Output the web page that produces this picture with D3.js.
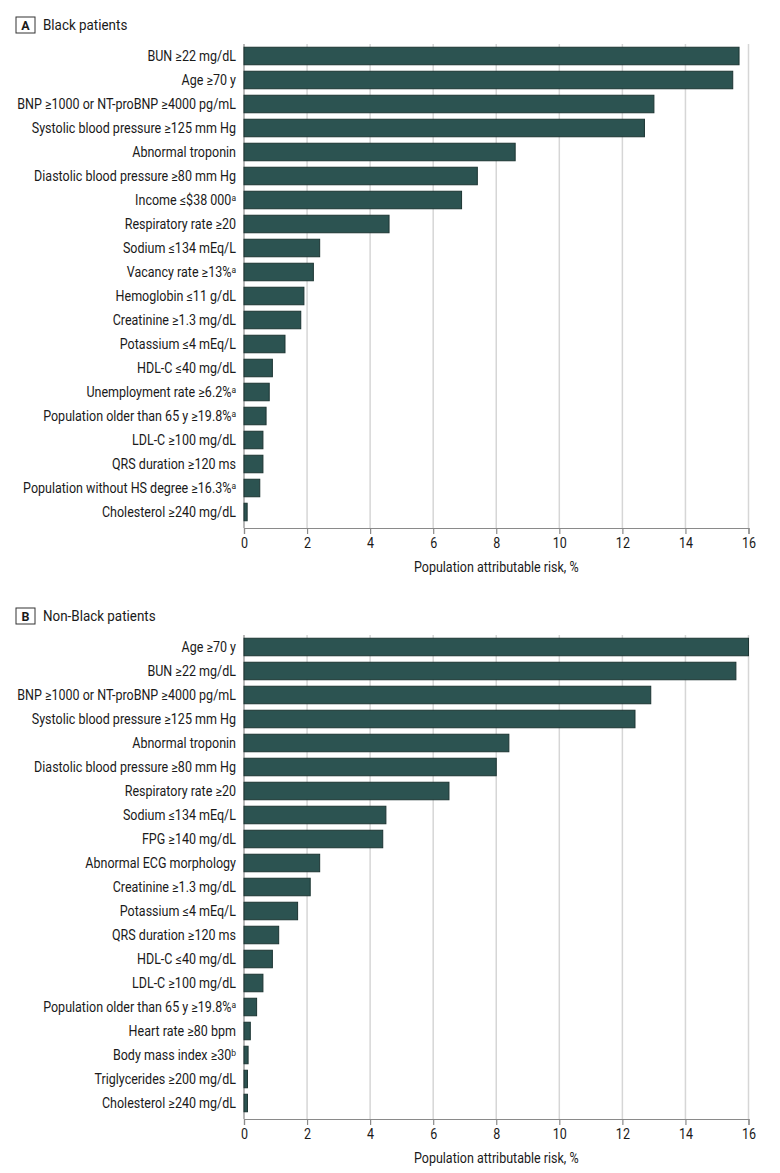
<!DOCTYPE html>
<html>
<head>
<meta charset="utf-8">
<script src="https://cdn.jsdelivr.net/npm/d3@7"></script>
<style>
  html, body { margin: 0; padding: 0; background: #fff; }
  svg { display: block; }
  text { font-family: "Roboto", "Noto Sans", sans-serif; fill: #1a1a1a; }
</style>
</head>
<body>
<svg id="chart" width="780" height="1173"></svg>
<script>
// ---- Data ----
const titleA = "Black patients";
const labelsA = [
  "BUN ≥22 mg/dL", "Age ≥70 y", "BNP ≥1000 or NT-proBNP ≥4000 pg/mL",
  "Systolic blood pressure ≥125 mm Hg", "Abnormal troponin",
  "Diastolic blood pressure ≥80 mm Hg", "Income ≤$38 000", "Respiratory rate ≥20",
  "Sodium ≤134 mEq/L", "Vacancy rate ≥13%", "Hemoglobin ≤11 g/dL",
  "Creatinine ≥1.3 mg/dL", "Potassium ≤4 mEq/L", "HDL-C ≤40 mg/dL",
  "Unemployment rate ≥6.2%", "Population older than 65 y ≥19.8%",
  "LDL-C ≥100 mg/dL", "QRS duration ≥120 ms", "Population without HS degree ≥16.3%",
  "Cholesterol ≥240 mg/dL"
];
const supA = ["", "", "", "", "", "", "a", "", "", "a", "", "", "", "", "a", "a", "", "", "a", ""];
const valuesA = [15.7, 15.5, 13.0, 12.7, 8.6, 7.4, 6.9, 4.6, 2.4, 2.2, 1.9, 1.8, 1.3, 0.9, 0.8, 0.7, 0.6, 0.6, 0.5, 0.1];

const titleB = "Non-Black patients";
const labelsB = [
  "Age ≥70 y", "BUN ≥22 mg/dL", "BNP ≥1000 or NT-proBNP ≥4000 pg/mL",
  "Systolic blood pressure ≥125 mm Hg", "Abnormal troponin",
  "Diastolic blood pressure ≥80 mm Hg", "Respiratory rate ≥20", "Sodium ≤134 mEq/L",
  "FPG ≥140 mg/dL", "Abnormal ECG morphology", "Creatinine ≥1.3 mg/dL",
  "Potassium ≤4 mEq/L", "QRS duration ≥120 ms", "HDL-C ≤40 mg/dL",
  "LDL-C ≥100 mg/dL", "Population older than 65 y ≥19.8%", "Heart rate ≥80 bpm",
  "Body mass index ≥30", "Triglycerides ≥200 mg/dL", "Cholesterol ≥240 mg/dL"
];
const supB = ["", "", "", "", "", "", "", "", "", "", "", "", "", "", "", "a", "", "b", "", ""];
const valuesB = [16.0, 15.6, 12.9, 12.4, 8.4, 8.0, 6.5, 4.5, 4.4, 2.4, 2.1, 1.7, 1.1, 0.9, 0.6, 0.4, 0.2, 0.13, 0.11, 0.11];

const xTicks = [0, 2, 4, 6, 8, 10, 12, 14, 16];
const xTitle = "Population attributable risk, %";

// ---- Drawing ----
const svg = d3.select("#chart");
const BAR_FILL = "#2c5351";
const BAR_STROKE = "#1c3533";

// measure condensation factor (reference font is a condensed sans)
const probe = svg.append("text").style("font-size", "14px").text("BNP ≥1000 or NT-proBNP ≥4000 pg/mL");
const K = 219 / probe.node().getComputedTextLength();
probe.remove();

function condensed(sel, x, y) {
  sel.attr("x", 0).attr("y", 0).attr("transform", `translate(${x},${y}) scale(${K},1)`);
}

function panel(y0, letter, title, labels, sups, values) {
  const g = svg.append("g").attr("transform", `translate(0,${y0})`);
  const x = d3.scaleLinear().domain([0, 16]).range([244, 748.5]);
  const y = d3.scaleBand().domain(labels).range([44, 524]).paddingInner(0.27).paddingOuter(0.135);

  // header
  g.append("rect").attr("x", 16).attr("y", 17).attr("width", 19).attr("height", 16)
    .attr("fill", "#fff").attr("stroke", "#333").attr("stroke-width", 1);
  g.append("text").attr("x", 25.5).attr("y", 25.5).attr("dy", "0.36em")
    .attr("text-anchor", "middle").style("font-weight", "bold").style("font-size", "12.5px")
    .text(letter);
  const ht = g.append("text").attr("dy", "0.36em").style("font-size", "15px").text(title);
  condensed(ht, 43, 25);

  // gridlines
  g.append("g").selectAll("line").data(xTicks.filter(d => d > 0)).join("line")
    .attr("x1", d => x(d)).attr("x2", d => x(d))
    .attr("y1", 44).attr("y2", 528)
    .attr("stroke", "#d6d6d6").attr("stroke-width", 1.5);

  // y axis line
  g.append("line").attr("x1", x(0)).attr("x2", x(0)).attr("y1", 44).attr("y2", 528)
    .attr("stroke", "#8a8a8a").attr("stroke-width", 1.2);

  // bars
  g.append("g").selectAll("rect").data(values).join("rect")
    .attr("x", x(0))
    .attr("y", (d, i) => y(labels[i]))
    .attr("width", d => x(d) - x(0))
    .attr("height", y.bandwidth())
    .attr("fill", BAR_FILL).attr("stroke", BAR_STROKE).attr("stroke-width", 1);

  // labels
  g.append("g").selectAll("text").data(labels).join("text")
    .attr("dy", "0.36em")
    .attr("text-anchor", "end")
    .style("font-size", "14px")
    .each(function(d, i) {
      const t = d3.select(this);
      condensed(t, 236, y(d) + y.bandwidth() / 2);
      t.append("tspan").text(d);
      if (sups[i]) {
        t.append("tspan").attr("dy", "-0.45em").style("font-size", "9.5px").text(sups[i]);
      }
    });

  // x axis
  const axis = d3.axisBottom(x).tickValues(xTicks).tickSize(6).tickPadding(4).tickFormat(d3.format("d"));
  const ax = g.append("g").attr("transform", "translate(0,528)").call(axis);
  ax.select(".domain").attr("stroke", "#8a8a8a").attr("stroke-width", 1.2);
  ax.selectAll(".tick line").attr("stroke", "#8a8a8a").attr("stroke-width", 1.2);
  ax.selectAll(".tick text").style("font-size", "14px").style("font-family", "Roboto, sans-serif")
    .attr("fill", "#1a1a1a")
    .each(function() {
      const t = d3.select(this);
      t.attr("transform", `translate(0,10) scale(${K},1)`).attr("y", 0).attr("dy", "0.71em");
    });

  const tt = g.append("text").attr("dy", "0.36em").attr("text-anchor", "middle")
    .style("font-size", "14px").text(xTitle);
  condensed(tt, (x(0) + x(16)) / 2, 567);
}

panel(0, "A", titleA, labelsA, supA, valuesA);
panel(591, "B", titleB, labelsB, supB, valuesB);
</script>
</body>
</html>
